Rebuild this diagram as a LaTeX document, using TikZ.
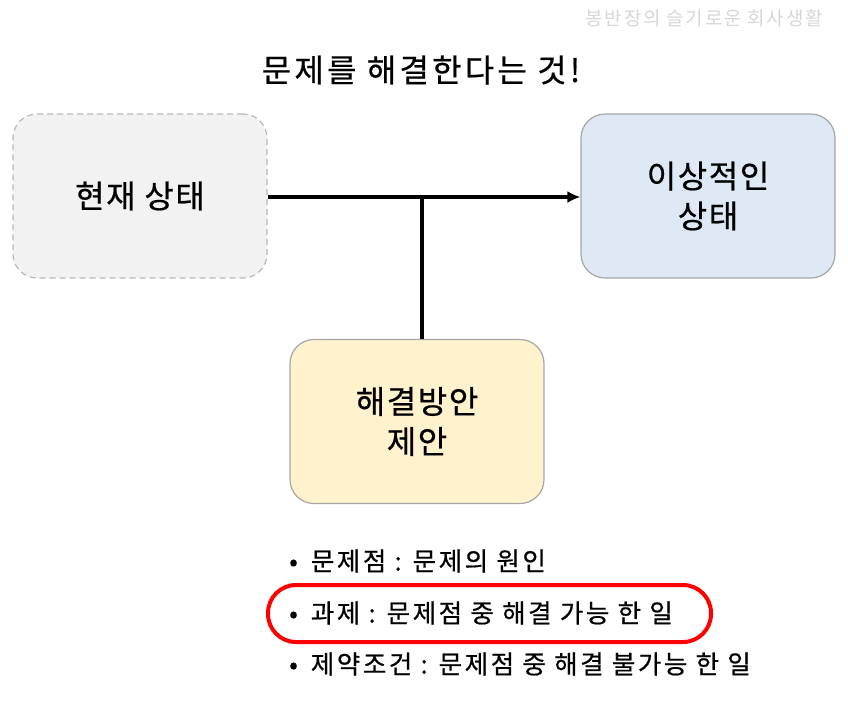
\documentclass[tikz,border=0pt]{standalone}
\usepackage{fontspec}
\setmainfont{Noto Sans CJK KR}[FakeBold=0.6]
\newfontfamily\wmfont{Noto Sans CJK KR}[LetterSpace=9]
\newfontfamily\titlefont{Noto Sans CJK KR}[LetterSpace=10,FakeBold=0.6]
\newfontfamily\boxfont{Noto Sans CJK KR}[LetterSpace=5,FakeBold=0.6]
\newfontfamily\listfont{Noto Sans CJK KR}[LetterSpace=10,FakeBold=0.6]
\usetikzlibrary{arrows.meta}
\begin{document}
\begin{tikzpicture}[x=1pt,y=-1pt,
  box/.style={draw=gray!70, line width=1.2pt, rounded corners=24pt, minimum width=254pt, minimum height=164pt, align=center, font=\boxfont\fontsize{32}{40}\selectfont, inner sep=0pt},
  conn/.style={line width=4pt},
  bullet/.style={anchor=west, font=\listfont\fontsize{25.5}{28}\selectfont, inner sep=0pt}]
\useasboundingbox (0,0) rectangle (848,702);
\definecolor{curfill}{HTML}{F2F2F2}
\definecolor{idealfill}{HTML}{DEE9F5}
\definecolor{solfill}{HTML}{FFF2CC}
\definecolor{wm}{HTML}{D6D6D6}
\node[font=\wmfont\fontsize{19}{22}\selectfont, text=wm, anchor=east, inner sep=0pt] (wm) at (823,18) {봉반장의 슬기로운 회사생활};
\node[font=\titlefont\fontsize{32}{36}\selectfont, inner sep=0pt] (title) at (421,70) {문제를 해결한다는 것!};
\node[box, fill=curfill, draw=gray!55, dash pattern=on 6pt off 4pt] (cur) at (140,196) {현재 상태};
\node[box, fill=idealfill] (ideal) at (708,196) {이상적인\\상태};
\node[box, fill=solfill] (sol) at (417,421.5) {해결방안\\제안};
\coordinate (j) at (422,197);
\draw[conn,-{Latex[length=13pt,width=12pt]}] (cur.east |- j) -- (ideal.west |- j);
\draw[conn] (j) -- (j |- sol.north);
\node[bullet] (b1) at (289,561) {•\hspace{13pt}문제점 : 문제의 원인};
\node[bullet] (b2) at (289,613) {•\hspace{13pt}과제 : 문제점 중 해결 가능 한 일};
\node[bullet] (b3) at (289,664) {•\hspace{13pt}제약조건 : 문제점 중 해결 불가능 한 일};
\draw[red, line width=4pt, rounded corners=28pt] (268,585) rectangle (711,642);
\end{tikzpicture}
\end{document}
